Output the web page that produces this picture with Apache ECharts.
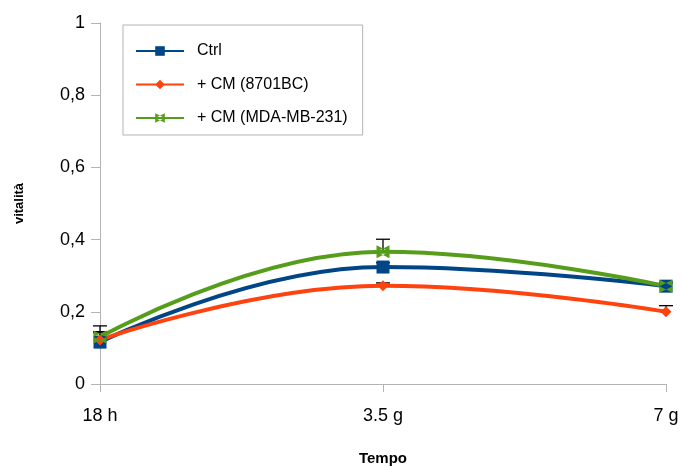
<!DOCTYPE html>
<html><head><meta charset="utf-8">
<script src="https://cdn.jsdelivr.net/npm/echarts@6/dist/echarts.min.js"></script>
<style>html,body{margin:0;padding:0;background:#fff}#c{width:681px;height:466px}</style>
</head><body><div id="c"></div>
<script>
const categories = ['18 h', '3.5 g', '7 g'];
const ctrlValues = [0.116, 0.324, 0.271];
const cm8701Values = [0.122, 0.272, 0.2];
const mdaValues = [0.13, 0.366, 0.271];
const ctrlErr = [0.045, 0.012, 0.01];
const cm8701Err = [0.02, 0.008, 0.017];
const mdaErr = [0.015, 0.035, 0.01];
const yTicks = [0, 0.2, 0.4, 0.6, 0.8, 1];

const FONT = 'Liberation Sans, Arial, sans-serif';
const chart = echarts.init(document.getElementById('c'));

function errData(vals, errs) {
  return vals.map((v, i) => [i, v, v + errs[i]]);
}
function errSeries(vals, errs) {
  return {
    type: 'custom', silent: true, z: 2,
    data: errData(vals, errs),
    encode: { x: 0, y: [1, 2] },
    renderItem: function (params, api) {
      const i = api.value(0);
      const lo = api.coord([i, api.value(1)]);
      const hi = api.coord([i, api.value(2)]);
      const w = 7;
      const st = { stroke: '#000', lineWidth: 1.3 };
      return {
        type: 'group',
        children: [
          { type: 'line', shape: { x1: lo[0], y1: lo[1], x2: hi[0], y2: hi[1] }, style: st },
          { type: 'line', shape: { x1: hi[0] - w, y1: hi[1], x2: hi[0] + w, y2: hi[1] }, style: st }
        ]
      };
    }
  };
}
function lineSeries(name, vals, color, symbol, size) {
  return {
    name: name, type: 'line', data: vals, smooth: 0.45,
    symbol: symbol, symbolSize: size, showSymbol: true,
    lineStyle: { color: color, width: 4 },
    itemStyle: { color: color },
    z: 3
  };
}

chart.setOption({
  animation: false,
  grid: { left: 100, right: 15, top: 23, bottom: 82, outerBoundsMode: 'none', containLabel: false },
  legend: {
    orient: 'vertical', left: 123, top: 25,
    padding: [18, 15, 9, 12],
    itemGap: 17.5, itemWidth: 48, itemHeight: 12,
    borderColor: '#b3b3b3', borderWidth: 1,
    textStyle: { fontFamily: FONT, fontSize: 16, color: '#000', padding: [0, 0, 0, 8] },
    data: ['Ctrl', '+ CM (8701BC)', '+ CM (MDA-MB-231)']
  },
  xAxis: {
    type: 'category', data: categories, boundaryGap: false,
    name: 'Tempo', nameLocation: 'middle', nameGap: 67,
    nameTextStyle: { fontFamily: FONT, fontSize: 15, fontWeight: 'bold', color: '#000' },
    axisLine: { lineStyle: { color: '#b3b3b3', width: 1 } },
    axisTick: { show: true, alignWithLabel: true, length: 8, lineStyle: { color: '#b3b3b3' } },
    axisLabel: { fontFamily: FONT, fontSize: 18, color: '#000', margin: 23 }
  },
  yAxis: {
    type: 'value', min: 0, max: 1, interval: 0.2,
    name: 'vitalità', nameLocation: 'middle', nameGap: 74, nameRotate: 90,
    nameTextStyle: { fontFamily: FONT, fontSize: 13, fontWeight: 'bold', color: '#000' },
    splitLine: { show: false },
    axisLine: { show: true, lineStyle: { color: '#b3b3b3', width: 1 } },
    axisTick: { show: true, length: 9, lineStyle: { color: '#b3b3b3' } },
    axisLabel: {
      fontFamily: FONT, fontSize: 18, color: '#000', margin: 15,
      formatter: v => yTicks.indexOf(v) >= 0 ? (v === 0 || v === 1 ? String(v) : v.toFixed(1).replace('.', ',')) : ''
    }
  },
  series: [
    lineSeries('Ctrl', ctrlValues, '#004586', 'rect', 13),
    lineSeries('+ CM (8701BC)', cm8701Values, '#ff420e', 'diamond', 11),
    lineSeries('+ CM (MDA-MB-231)', mdaValues, '#579d1c', 'path://M0,0L10,5L0,10Z M10,0L0,5L10,10Z', 13),
    errSeries(ctrlValues, ctrlErr),
    errSeries(cm8701Values, cm8701Err),
    errSeries(mdaValues, mdaErr)
  ]
});
</script></body></html>
